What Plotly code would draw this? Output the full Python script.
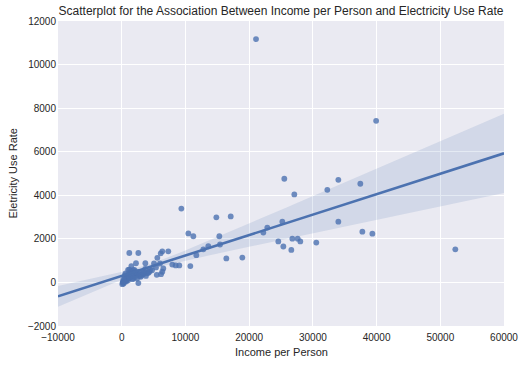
import numpy as np
import plotly.graph_objects as go

income = [
    21080, 39930, 25520, 27090, 34000, 37450, 32270, 25210, 34000, 37770, 39340,
    22230, 22850, 24580, 25370, 26780, 27620, 28030, 30540, 26620, 52360,
    17110, 9360, 10460, 11240, 14850, 15320, 16420, 10770, 11710, 12810, 13590,
    15430, 18930, 7310, 6370, 6120, 7940, 8470, 9040, 6530, 6370, 6170, 6010,
    1190, 2610, 5590, 3710, 2240, 1510, 5070, 5380, 4760, 4330, 3390, 2980,
    2610, 1190, 1820, 520, 250,
    200, 300, 400, 500, 600, 700, 800, 900, 1000, 1100, 1300, 1400, 1500, 1600,
    1700, 1900, 2000, 2100, 2200, 2300, 2500, 2700, 2800, 3200, 3600, 3700, 4000,
    4500, 600, 900, 150, 350, 450, 250, 1000, 1500, 2400, 3100, 3800, 4200, 5500,
    100, 300, 700, 1200, 1800, 2900, 3400
]
elec = [
    11170, 7420, 4760, 4040, 4710, 4530, 4250, 2790, 2790, 2330, 2240,
    2290, 2520, 1880, 1650, 2010, 2010, 1880, 1830, 1490, 1520,
    3030, 3390, 2250, 2120, 2990, 2120, 1100, 750, 1250, 1520, 1660,
    1740, 1140, 1430, 1430, 1330, 820, 780, 780, 640, 490, 380, 870,
    1350, 1350, 1130, 880, 880, 750, 870, 690, 560, 490, 380, 260,
    -30, 590, 560, 330, 30,
    20, 40, 30, 60, 90, 230, 120, 280, 100, 380, 200, 480, 520, 300,
    150, 420, 580, 250, 480, 350, 400, 480, 300, 380, 480, 620, 420,
    580, 420, 180, -20, 80, 230, 130, 580, 300, 180, 320, 300, 450, 350,
    -80, -50, 40, 230, 200, 380, 460
]

x = np.array(income, float)
y = np.array(elec, float)
n = len(x)
X = np.column_stack([np.ones(n), x])
beta = np.linalg.lstsq(X, y, rcond=None)[0]
resid = y - X @ beta
XtX_inv = np.linalg.inv(X.T @ X)
meat = X.T @ (X * (resid ** 2)[:, None])
cov = XtX_inv @ meat @ XtX_inv
xg = np.linspace(-10000, 60000, 100)
Xg = np.column_stack([np.ones_like(xg), xg])
yg = Xg @ beta
se = np.sqrt(np.einsum('ij,jk,ik->i', Xg, cov, Xg))
lo = yg - 1.96 * se
hi = yg + 1.96 * se

blue = "#4C72B0"
fig = go.Figure()
fig.add_trace(go.Scatter(x=np.concatenate([xg, xg[::-1]]), y=np.concatenate([hi, lo[::-1]]),
                         fill="toself", fillcolor="rgba(76,114,176,0.15)", line=dict(width=0),
                         hoverinfo="skip", showlegend=False))
fig.add_trace(go.Scatter(x=x, y=y, mode="markers",
                         marker=dict(color=blue, size=5.8, opacity=0.8, line=dict(width=0)),
                         showlegend=False))
fig.add_trace(go.Scatter(x=xg, y=yg, mode="lines", line=dict(color=blue, width=2.6),
                         showlegend=False))

font = "Liberation Sans, Arial, sans-serif"
fig.update_layout(
    width=525, height=365,
    margin=dict(l=58, r=21, t=21, b=39, autoexpand=False),
    paper_bgcolor="white", plot_bgcolor="#EAEAF2",
    font=dict(family=font, size=10, color="#262626"),
    title=dict(text="Scatterplot for the Association Between Income per Person and Electricity Use Rate",
               x=0.5, xref="paper", y=1 - 11 / 365, yref="container", yanchor="middle", automargin=False,
               font=dict(size=12, color="#262626")),
    xaxis=dict(range=[-10000, 60000], tickvals=[-10000, 0, 10000, 20000, 30000, 40000, 50000, 60000],
               tickformat="d", showgrid=True, gridcolor="white", gridwidth=1, zeroline=False,
               showline=False, ticks="", ticklen=0, automargin=False, ticklabelstandoff=4),
    yaxis=dict(range=[-2000, 12000], tickvals=list(range(-2000, 12001, 2000)),
               tickformat="d", showgrid=True, gridcolor="white", gridwidth=1, zeroline=False,
               showline=False, ticks="", ticklen=0, automargin=False, ticklabelstandoff=1),
    annotations=[
        dict(text="Income per Person", xref="paper", yref="paper", x=0.5, y=-26 / 305,
             xanchor="center", yanchor="middle", showarrow=False, font=dict(size=11)),
        dict(text="Eletricity Use Rate", xref="paper", yref="paper", x=-46 / 446, y=0.5,
             xanchor="center", yanchor="middle", textangle=-90, showarrow=False, font=dict(size=11)),
    ],
)
fig.write_html("out.html", config={"displayModeBar": False},
               post_script="document.body.style.margin='0';document.body.style.overflow='hidden';")
